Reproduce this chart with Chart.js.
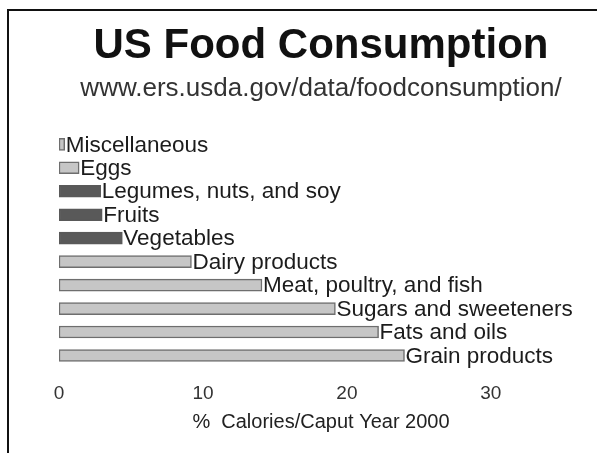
<!DOCTYPE html>
<html>
<head>
<meta charset="utf-8">
<script src="https://cdn.jsdelivr.net/npm/chart.js@4"></script>
<style>
  html, body { margin:0; padding:0; background:#fff; }
  #wrap { position:relative; width:597px; height:453px; overflow:hidden; }
  #frame { position:absolute; left:7px; top:9px; right:-5px; bottom:-5px; border-left:2px solid #111; border-top:2px solid #111; pointer-events:none; }
</style>
</head>
<body>
<div id="wrap">
  <canvas id="c" width="597" height="453"></canvas>
  <div id="frame"></div>
</div>
<script>
// data
const categories = ['Miscellaneous','Eggs','Legumes, nuts, and soy','Fruits','Vegetables',
  'Dairy products','Meat, poultry, and fish','Sugars and sweeteners','Fats and oils','Grain products'];
const calories = [0.4, 1.4, 2.9, 3.0, 4.4, 9.2, 14.1, 19.2, 22.2, 24.0];
const tickValues = [0, 10, 20, 30];

const FONT = '"Liberation Sans", Arial, sans-serif';
const dark = ['Legumes, nuts, and soy','Fruits','Vegetables'];
const fills = categories.map(c => dark.includes(c) ? '#595959' : '#c6c6c6');
const edges = categories.map(c => dark.includes(c) ? '#595959' : '#6e6e6e');

// label at the end of every bar
const barLabels = {
  id: 'barLabels',
  afterDatasetsDraw(chart){
    const ctx = chart.ctx;
    const meta = chart.getDatasetMeta(0);
    ctx.save();
    ctx.font = '22.5px ' + FONT;
    ctx.fillStyle = '#1c1c1c';
    ctx.textBaseline = 'middle';
    ctx.textAlign = 'left';
    meta.data.forEach((bar, i) => {
      ctx.fillText(categories[i], bar.x + 1, bar.y + 1);
    });
    ctx.restore();
  }
};

new Chart(document.getElementById('c'), {
  type: 'bar',
  data: {
    labels: categories,
    datasets: [{
      data: calories,
      backgroundColor: fills,
      borderColor: edges,
      borderWidth: 1.5,
      borderSkipped: false,
      barThickness: 12
    }]
  },
  options: {
    indexAxis: 'y',
    responsive: false,
    animation: false,
    layout: { padding: { left: 59, right: 14, bottom: 19 } },
    scales: {
      x: {
        min: 0, max: 36.4,
        grid: { display: false },
        border: { display: false },
        afterBuildTicks: axis => { axis.ticks = tickValues.map(v => ({ value: v })); },
        ticks: { color: '#333', font: { family: FONT, size: 19 }, padding: 7, maxRotation: 0 },
        title: { display: true, text: '%  Calories/Caput Year 2000', color: '#222',
          font: { family: FONT, size: 20 }, padding: { top: -2, bottom: 0 } }
      },
      y: { display: false }
    },
    plugins: {
      legend: { display: false },
      tooltip: { enabled: false },
      title: { display: true, text: 'US Food Consumption', color: '#111',
        font: { family: FONT, size: 42, weight: 'bold' }, padding: { top: 21, bottom: 2 } },
      subtitle: { display: true, text: 'www.ers.usda.gov/data/foodconsumption/', color: '#333',
        font: { family: FONT, size: 26 }, padding: { top: 0, bottom: 28 } }
    }
  },
  plugins: [barLabels]
});
</script>
</body>
</html>
